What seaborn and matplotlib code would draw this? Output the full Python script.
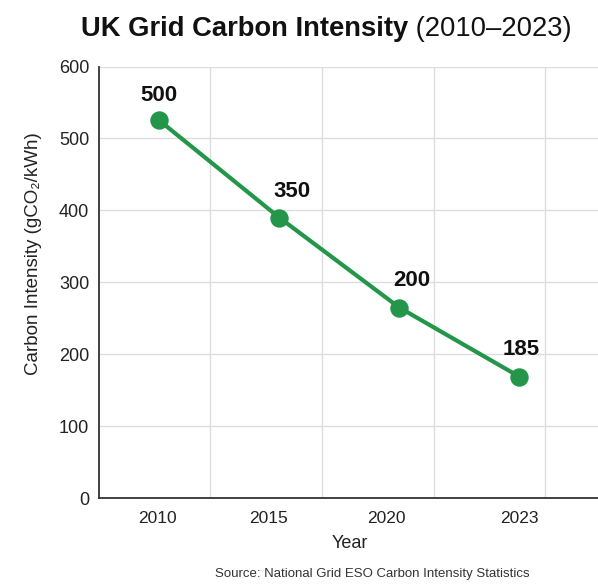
import matplotlib
matplotlib.use("Agg")
import matplotlib.pyplot as plt
import seaborn as sns
import pandas as pd

# ---- data ----
years = ["2010", "2015", "2020", "2023"]
intensity = [525, 390, 265, 169]          # plotted positions
point_labels = ["500", "350", "200", "185"]  # annotation text shown in the chart
y_ticks = [0, 100, 200, 300, 400, 500, 600]

title_bold = "UK Grid Carbon Intensity"
title_regular = " (2010\u20132023)"
y_label = "Carbon Intensity (gCO\u2082/kWh)"
x_label = "Year"
source = "Source: National Grid ESO Carbon Intensity Statistics"

# ---- style ----
GREEN = "#23964a"
FONT = ["Liberation Sans", "DejaVu Sans"]
label_offsets_px = [(0, 25), (13, 26), (12, 27), (2, 27)]
xtick_positions = [-0.014, 0.908, 1.894, 2.996]
vgrid_positions = [0.419, 1.358, 2.288, 3.21]

sns.set_theme(style="white")
plt.rcParams["font.family"] = FONT

W, H = 598, 585
fig = plt.figure(figsize=(W / 100, H / 100), dpi=100)
ax_left, ax_right, ax_top, ax_bottom = 99.3, 601, 66.5, 498.3
ax = fig.add_axes([ax_left / W, 1 - ax_bottom / H,
                   (ax_right - ax_left) / W, (ax_bottom - ax_top) / H])

df = pd.DataFrame({"Year": years, "Intensity": intensity})
sns.pointplot(data=df, x="Year", y="Intensity", color=GREEN, markers="o",
              linestyles="-", errorbar=None, linewidth=3, markersize=11,
              ax=ax, zorder=5)

ax.set_xlim(-0.5, 3.68)
ax.set_ylim(0, 600)
ax.set_yticks(y_ticks)
ax.set_xticks(xtick_positions)
ax.set_xticklabels(years)
ax.set_xticks(vgrid_positions, minor=True)
ax.grid(False)
ax.yaxis.grid(True, color="#dddddd", linewidth=1)
ax.xaxis.grid(True, which="minor", color="#dddddd", linewidth=1)
ax.set_axisbelow(True)
ax.tick_params(axis="both", which="both", length=0, colors="#222222")
ax.tick_params(axis="y", pad=7.2, labelsize=13)
ax.tick_params(axis="x", pad=9, labelsize=12.5)

for s in ["top", "right"]:
    ax.spines[s].set_visible(False)
for s in ["left", "bottom"]:
    ax.spines[s].set_color("#333333")
    ax.spines[s].set_linewidth(1.3)

ax.set_ylabel(y_label, fontsize=13.5, color="#222222")
ax.yaxis.set_label_coords(-0.115, 0.566)
ax.set_xlabel(x_label, fontsize=13, color="#222222")
ax.xaxis.set_label_coords(0.5, -0.085)

for i, (v, lab) in enumerate(zip(intensity, point_labels)):
    dx, dy = label_offsets_px[i]
    ax.annotate(lab, xy=(i, v), xytext=(dx, dy), textcoords="offset pixels",
                ha="center", va="center", fontsize=16, fontweight="bold",
                color="#111111", zorder=6)

fig.text(372.5 / W, 1 - 574 / H, source, ha="center", va="center",
         fontsize=9.5, color="#333333")

# two-part title, centred as a whole
t1 = fig.text(0, 1 - 29 / H, title_bold, ha="left", va="center",
              fontsize=19.7, fontweight="bold", color="#111111")
t2 = fig.text(0, 1 - 29 / H, title_regular, ha="left", va="center",
              fontsize=19.7, color="#111111")
fig.canvas.draw()
r = fig.canvas.get_renderer()
w1 = t1.get_window_extent(r).width
w2 = t2.get_window_extent(r).width
center = 326
start = center - (w1 + w2) / 2
t1.set_x(start / W)
t2.set_x((start + w1) / W)

fig.savefig("out.png", dpi=100)
